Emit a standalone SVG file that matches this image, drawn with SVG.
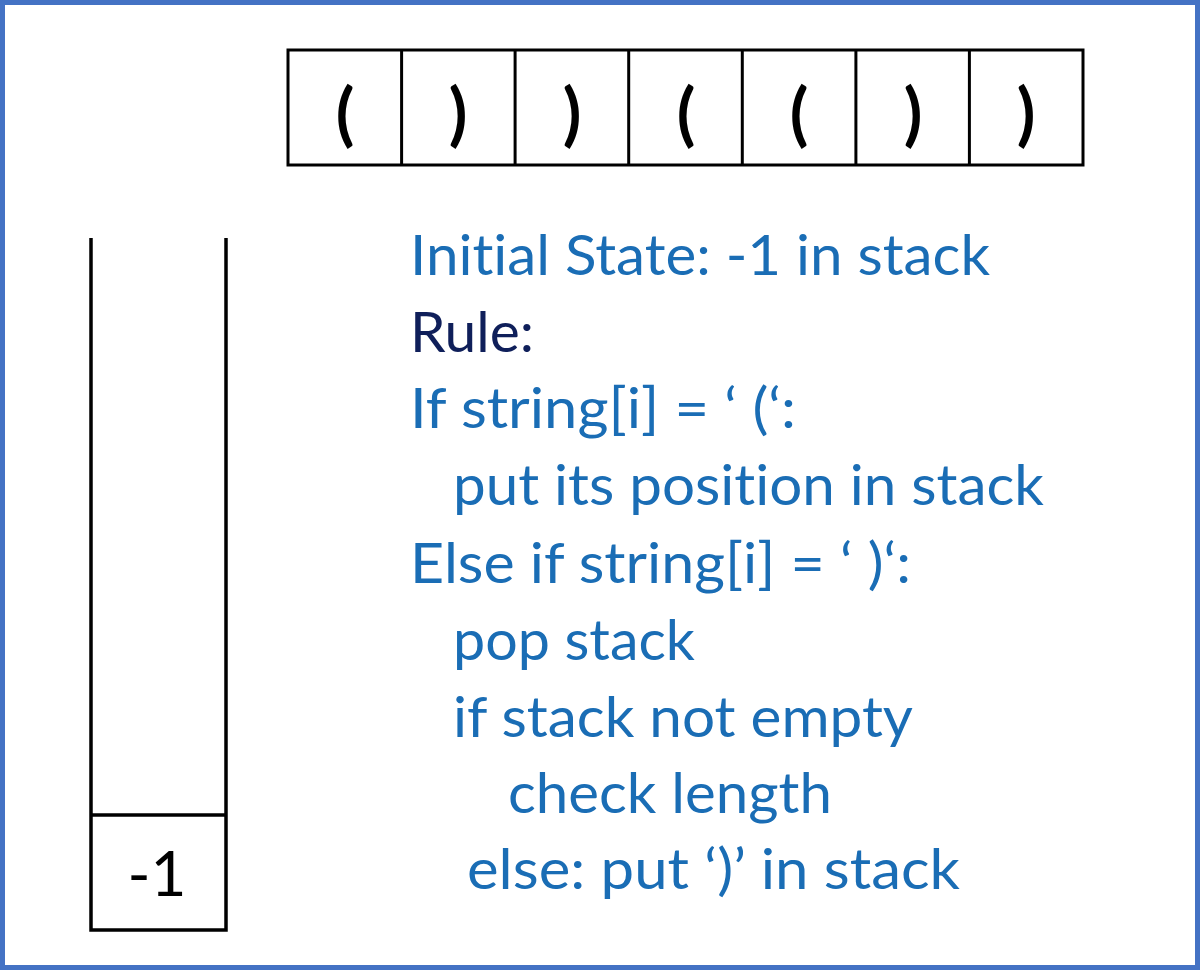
<svg xmlns="http://www.w3.org/2000/svg" width="1200" height="970" viewBox="0 0 1200 970">
<style>
.frame{fill:#ffffff;stroke:#4472C4;stroke-width:5}
.cell{fill:#ffffff;stroke:#000000;stroke-width:3}
.wall{stroke:#000000;stroke-width:3.5;fill:none}
.par{font-family:Lato,"Open Sans",sans-serif;font-weight:bold;font-size:68px;fill:#000000;text-anchor:middle}
.rule{font-family:Lato,"Open Sans",sans-serif;font-size:56px;fill:#1A6DB5;font-variant-ligatures:none;font-feature-settings:"liga" 0,"dlig" 0}
.dark{fill:#0F1F5A}
.num{font-family:Lato,"Open Sans",sans-serif;font-size:62px;fill:#000000;text-anchor:middle}
</style>
<rect class="frame" x="2.5" y="2.5" width="1195" height="965"/>
<g id="string-array">
<rect class="cell" x="288" y="50" width="795" height="115"/>
<line class="cell" x1="401.6" y1="50" x2="401.6" y2="165"/>
<line class="cell" x1="515.1" y1="50" x2="515.1" y2="165"/>
<line class="cell" x1="628.7" y1="50" x2="628.7" y2="165"/>
<line class="cell" x1="742.3" y1="50" x2="742.3" y2="165"/>
<line class="cell" x1="855.9" y1="50" x2="855.9" y2="165"/>
<line class="cell" x1="969.4" y1="50" x2="969.4" y2="165"/>
<text class="par" x="345" y="138">(</text>
<text class="par" x="458" y="138">)</text>
<text class="par" x="572" y="138">)</text>
<text class="par" x="686" y="138">(</text>
<text class="par" x="799" y="138">(</text>
<text class="par" x="913" y="138">)</text>
<text class="par" x="1026" y="138">)</text>
</g>
<g id="stack">
<polyline class="wall" points="91,238 91,930 226,930 226,238"/>
<line class="wall" x1="91" y1="815" x2="226" y2="815"/>
<text class="num" x="157" y="896">-1</text>
</g>
<g id="rules">
<text class="rule" x="410" y="275" textLength="580" lengthAdjust="spacingAndGlyphs">Initial State: -1 in stack</text>
<text class="rule dark" x="410" y="352" textLength="124" lengthAdjust="spacingAndGlyphs">Rule:</text>
<text class="rule" x="410" y="428" textLength="386" lengthAdjust="spacingAndGlyphs">If string[i] = ‘ (‘:</text>
<text class="rule" x="453" y="505" textLength="591" lengthAdjust="spacingAndGlyphs">put its position in stack</text>
<text class="rule" x="410" y="583" textLength="501" lengthAdjust="spacingAndGlyphs">Else if string[i] = ‘ )‘:</text>
<text class="rule" x="453" y="660" textLength="242" lengthAdjust="spacingAndGlyphs">pop stack</text>
<text class="rule" x="453" y="737" textLength="460" lengthAdjust="spacingAndGlyphs">if stack not empty</text>
<text class="rule" x="508" y="813" textLength="324" lengthAdjust="spacingAndGlyphs">check length</text>
<text class="rule" x="467" y="889" textLength="493" lengthAdjust="spacingAndGlyphs">else: put ‘)’ in stack</text>
</g>
</svg>
